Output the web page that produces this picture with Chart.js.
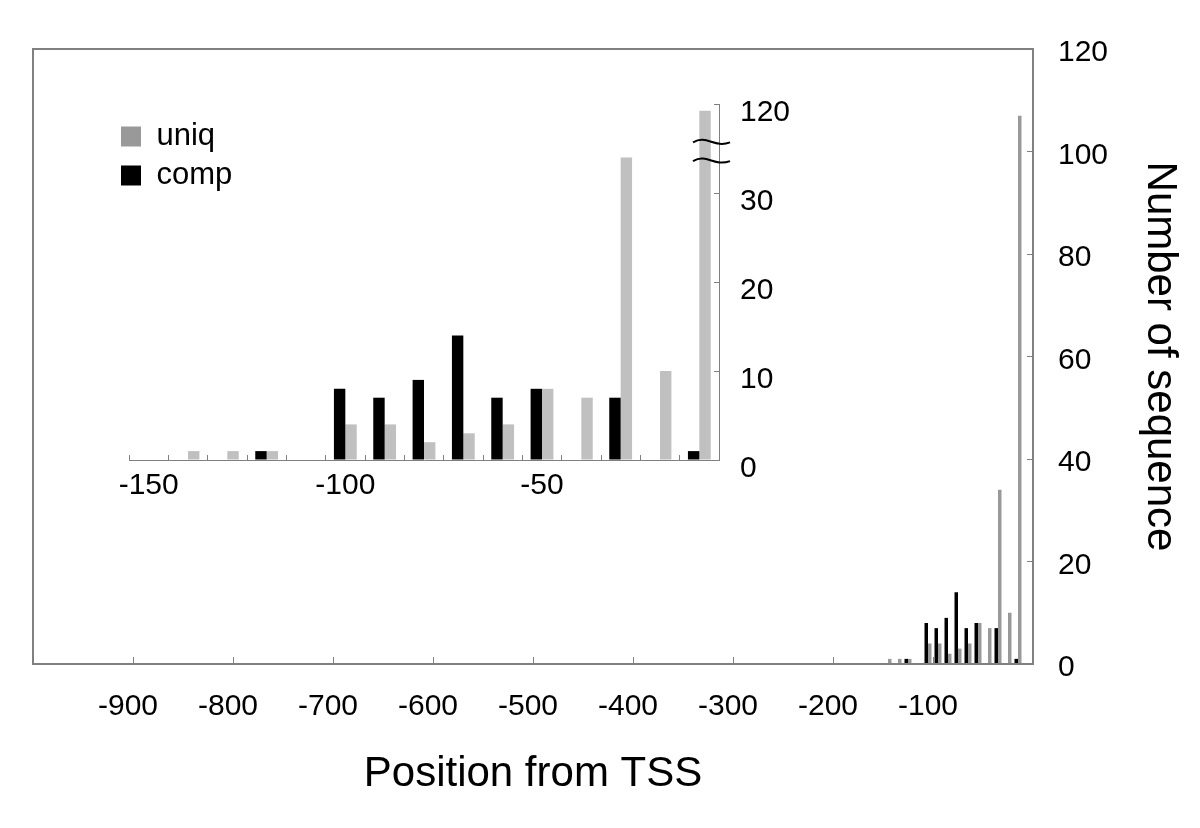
<!DOCTYPE html>
<html>
<head>
<meta charset="utf-8">
<script src="https://cdn.jsdelivr.net/npm/chart.js@4"></script>
<style>
  body { margin: 0; background: #fff; }
  #wrap { position: relative; width: 1200px; height: 828px; }
  #main { position: absolute; left: 0; top: 0; }
  #inset { position: absolute; left: 100px; top: 60px; }
</style>
</head>
<body>
<div id="wrap">
  <canvas id="main" width="1200" height="828"></canvas>
  <canvas id="inset" width="700" height="460"></canvas>
</div>
<script>
// bins of 10 bp upstream of the TSS
const bins = [-150, -140, -130, -120, -110, -100, -90, -80, -70, -60, -50, -40, -30, -20, -10];
const uniq = [0, 1, 1, 1, 0, 4, 4, 2, 3, 4, 8, 7, 34, 10, 107];
const comp = [0, 0, 0, 1, 0, 8, 7, 9, 14, 7, 8, 0, 7, 0, 1];
const insetLabels = [-150, -100, -50];

const axisGray = '#808080';
Chart.defaults.font.family = '"Liberation Sans", Arial, sans-serif';
Chart.defaults.color = '#000';
Chart.defaults.animation = false;

// inset y axis is broken above 35: 35..120 squeezed into 35..40
const breakAt = 35;
const squeeze = v => v <= breakAt ? v : breakAt + (v - breakAt) * 5 / 85;

const frame = {
  id: 'frame',
  afterDatasetsDraw(chart) {
    const a = chart.chartArea, c = chart.ctx;
    c.save();
    c.strokeStyle = axisGray;
    c.lineWidth = 2;
    c.strokeRect(a.left, a.top, a.right - a.left, a.bottom - a.top);
    c.restore();
  }
};

// put the legend up in the inset corner
const legendSpot = {
  id: 'legendSpot',
  afterLayout(chart) {
    chart.legend.left = 113;
    chart.legend.top = 113;
  }
};

const breakMarks = {
  id: 'breakMarks',
  afterDraw(chart) {
    const y = chart.scales.y, c = chart.ctx;
    const x0 = chart.chartArea.right - 26, x1 = chart.chartArea.right + 11;
    c.save();
    c.strokeStyle = '#000';
    c.lineWidth = 2;
    [35.8, 33.7].forEach(v => {
      const p = y.getPixelForValue(v);
      c.beginPath();
      c.moveTo(x0, p + 1);
      c.bezierCurveTo(x0 + 14, p - 7, x1 - 16, p + 7, x1, p + 1);
      c.stroke();
    });
    c.restore();
  }
};

new Chart(document.getElementById('main'), {
  type: 'bar',
  data: {
    datasets: [
      {label: 'comp', data: bins.map((b, i) => ({x: b - 5, y: comp[i]})), backgroundColor: '#000'},
      {label: 'uniq', data: bins.map((b, i) => ({x: b - 5, y: uniq[i]})), backgroundColor: '#999999'}
    ]
  },
  options: {
    responsive: false,
    categoryPercentage: 0.7,
    barPercentage: 1,
    layout: {padding: {left: 33, top: 47, right: 0, bottom: 0}},
    plugins: {
      legend: {
        position: 'chartArea',
        align: 'start',
        reverse: true,
        labels: {boxWidth: 20, boxHeight: 20, padding: 8, color: '#000', font: {size: 31}}
      },
      tooltip: {enabled: false}
    },
    scales: {
      x: {
        type: 'linear',
        min: -1000,
        max: 0,
        offset: false,
        grid: {offset: false, drawOnChartArea: false, tickLength: -7, color: axisGray},
        border: {display: false},
        ticks: {
          stepSize: 100,
          padding: 32,
          labelOffset: -5,
          font: {size: 30},
          callback: v => (v === -1000 || v === 0) ? '' : v
        },
        title: {display: true, text: 'Position from TSS', font: {size: 42}, padding: {top: 0, bottom: 28}},
        afterFit: s => { s.height = 164; }
      },
      y: {
        position: 'right',
        min: 0,
        max: 120,
        grid: {drawOnChartArea: false, tickLength: -6, color: axisGray},
        border: {display: false},
        ticks: {stepSize: 20, padding: 31, labelOffset: 4, font: {size: 30}},
        title: {display: true, text: 'Number of sequence', font: {size: 42}, padding: {top: 15, bottom: 0}},
        afterFit: s => { s.width = 167; }
      }
    }
  },
  plugins: [frame, legendSpot]
});

new Chart(document.getElementById('inset'), {
  type: 'bar',
  data: {
    labels: bins.map(String),
    datasets: [
      {label: 'comp', data: comp.map(squeeze), backgroundColor: '#000'},
      {label: 'uniq', data: uniq.map(squeeze), backgroundColor: '#c0c0c0'}
    ]
  },
  options: {
    responsive: false,
    categoryPercentage: 0.58,
    barPercentage: 1,
    layout: {padding: {left: 29, top: 37, right: 0, bottom: 0}},
    plugins: {legend: {display: false}, tooltip: {enabled: false}},
    scales: {
      x: {
        grid: {offset: true, drawOnChartArea: false, tickLength: -5, color: axisGray},
        border: {display: true, color: axisGray, width: 1},
        ticks: {
          autoSkip: false,
          maxRotation: 0,
          padding: 13,
          font: {size: 30},
          callback: (v, i) => insetLabels.includes(bins[i]) ? String(bins[i]) : ''
        },
        afterFit: s => { s.height = 60; }
      },
      y: {
        position: 'right',
        min: 0,
        max: 40,
        grid: {drawOnChartArea: false, tickLength: -5, color: axisGray},
        border: {display: true, color: axisGray, width: 1},
        ticks: {
          stepSize: 10,
          padding: 26,
          labelOffset: 9,
          font: {size: 30},
          callback: v => v === 40 ? '120' : v
        },
        afterFit: s => { s.width = 81; }
      }
    }
  },
  plugins: [breakMarks]
});
</script>
</body>
</html>
